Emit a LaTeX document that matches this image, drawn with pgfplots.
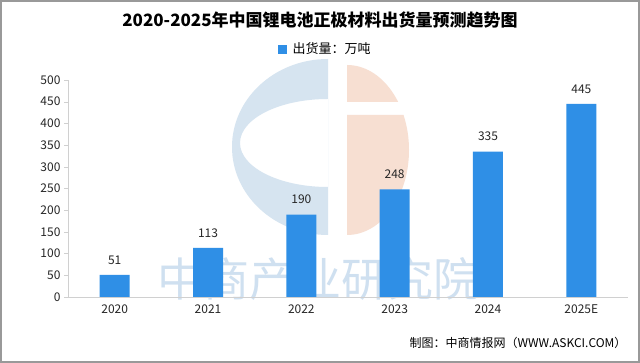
\documentclass[border=0pt]{standalone}
\usepackage{pgfplots}
\pgfplotsset{compat=1.18}
\usepackage{fontspec}
\setmainfont{Noto Sans CJK SC}
\definecolor{barblue}{HTML}{2F8FE6}
\definecolor{axgray}{HTML}{D0D0D0}
\definecolor{wmblue}{HTML}{D6E4F0}
\definecolor{wmorange}{HTML}{F7DFD2}
\definecolor{wmtext}{HTML}{CFE0F0}
\begin{document}
\begin{tikzpicture}[x=1pt,y=1pt]
\path[use as bounding box] (0,0) rectangle (640,363);
\fill[white] (0,0) rectangle (640,363);
\draw[gray!80,line width=2pt] (1,1) rectangle (639,362);
% watermark logo
\fill[wmblue,even odd rule] (328,304) arc (90:270:96 and 88) -- cycle
  (328,264) arc (90:270:88 and 44) -- cycle;
\begin{scope}
\clip (347,0) rectangle (640,248) (347,261) rectangle (640,363);
\fill[wmorange] (347,298) arc (90:-90:62 and 85) -- cycle;
\end{scope}
\node[text=wmtext,font=\fontsize{46}{46}\selectfont,inner sep=0pt] at (318,84) {中商产业研究院};
\begin{axis}[
  at={(68pt,66pt)}, anchor=south west,
  scale only axis, width=560pt, height=217pt,
  xmin=-0.5, xmax=5.5, ymin=0, ymax=500,
  ytick={0,50,...,500},
  xtick={0,...,5},
  xticklabels={2020,2021,2022,2023,2024,2025E},
  axis x line*=bottom, axis y line*=left,
  axis line style={axgray},
  x axis line style={-}, y axis line style={-},
  major tick style={axgray},
  tick align=outside, major tick length=4pt,
  xtick style={draw=none},
  extra x ticks={0.5,1.5,2.5,3.5,4.5},
  extra x tick labels={},
  extra x tick style={major tick length=3pt, tick style={axgray}},
  tick label style={font=\fontsize{12}{12}\selectfont, text=black!85},
  /pgf/number format/assume math mode=true,
  ybar, bar width=30pt,
  nodes near coords,
  every node near coord/.append style={font=\fontsize{12}{12}\selectfont, text=black!85, yshift=7pt},
  clip=false,
]
\addplot[fill=barblue, draw=none] coordinates {(0,51) (1,113) (2,190) (3,248) (4,335) (5,445)};
\end{axis}
\node[font=\fontsize{17}{17}\selectfont\bfseries] at (320,343) {2020-2025年中国锂电池正极材料出货量预测趋势图};
\fill[barblue] (278,309) rectangle (287,318);
\node[anchor=west,font=\fontsize{13}{13}\selectfont] at (289,314) {出货量：万吨};
\node[anchor=east,font=\fontsize{12}{12}\selectfont] at (630,20) {制图：中商情报网（WWW.ASKCI.COM）};
\end{tikzpicture}
\end{document}
